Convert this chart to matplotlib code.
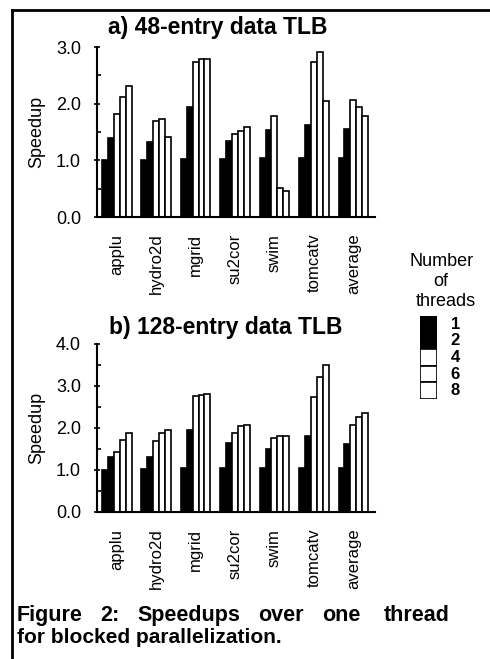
import matplotlib
matplotlib.use("Agg")
import matplotlib.pyplot as plt
from matplotlib.lines import Line2D
import numpy as np

plt.rcParams["font.family"] = ["Liberation Sans", "DejaVu Sans"]

benchmarks = ["applu", "hydro2d", "mgrid", "su2cor", "swim", "tomcatv", "average"]
threads = ["1", "2", "4", "6", "8"]
thread_colors = ["black", "black", "white", "white", "white"]

# speedup per benchmark, one column per thread count (1, 2, 4, 6, 8)
tlb48 = [
    [1.01, 1.40, 1.81, 2.11, 2.31],
    [1.01, 1.33, 1.70, 1.73, 1.41],
    [1.03, 1.94, 2.73, 2.78, 2.78],
    [1.03, 1.35, 1.47, 1.52, 1.59],
    [1.04, 1.53, 1.79, 0.52, 0.46],
    [1.04, 1.63, 2.74, 2.92, 2.05],
    [1.05, 1.56, 2.06, 1.95, 1.79],
]
tlb128 = [
    [1.01, 1.32, 1.44, 1.72, 1.87],
    [1.02, 1.31, 1.70, 1.88, 1.96],
    [1.04, 1.95, 2.76, 2.78, 2.82],
    [1.05, 1.64, 1.89, 2.04, 2.08],
    [1.04, 1.51, 1.77, 1.80, 1.81],
    [1.05, 1.81, 2.75, 3.22, 3.50],
    [1.05, 1.61, 2.08, 2.26, 2.36],
]

W, H = 490, 659
fig = plt.figure(figsize=(W / 100, H / 100), dpi=100)


def px_axes(left, top, right, bottom):
    return fig.add_axes([left / W, 1 - bottom / H, (right - left) / W, (bottom - top) / H])


def panel(ax, data, ymax):
    data = np.asarray(data)
    x = np.arange(len(benchmarks))
    bw = 0.15
    for i, t in enumerate(threads):
        ax.bar(x + (i - 2) * bw, data[:, i], width=bw, color=thread_colors[i],
               edgecolor="black", linewidth=1.2)
    ax.set_xlim(-0.5, len(benchmarks) - 0.45)
    ax.set_ylim(0, ymax)
    ax.set_yticks(np.arange(0, ymax + 0.01, 1.0))
    ax.set_yticklabels(["%.1f" % v for v in np.arange(0, ymax + 0.01, 1.0)], fontsize=13)
    ax.set_yticks(np.arange(0.5, ymax, 1.0), minor=True)
    ax.tick_params(axis="y", which="major", direction="inout", length=5, width=1.2, pad=9)
    ax.tick_params(axis="y", which="minor", direction="in", length=3, width=1.2)
    ax.set_xticks(x)
    ax.set_xticklabels(benchmarks, rotation=90, fontsize=12)
    ax.tick_params(axis="x", length=0, pad=12)
    for s in ("top", "right"):
        ax.spines[s].set_visible(False)
    for s in ("left", "bottom"):
        ax.spines[s].set_linewidth(1.5)
    ax.set_ylabel("Speedup", fontsize=13, labelpad=8)


ax_a = px_axes(97, 47, 375, 217)
panel(ax_a, tlb48, 3.0)
ax_b = px_axes(97, 344, 375, 512)
panel(ax_b, tlb128, 4.0)

fig.text(108 / W, 1 - 34 / H, "a) 48-entry data TLB", fontsize=16.5, fontweight="bold",
         ha="left", va="baseline")
fig.text(109 / W, 1 - 334 / H, "b) 128-entry data TLB", fontsize=16.5, fontweight="bold",
         ha="left", va="baseline")

# legend: stacked boxes
ax_l = px_axes(420, 316, 437, 399)
for i, t in enumerate(threads):
    ax_l.bar(0, 1, bottom=len(threads) - 1 - i, width=1, color=thread_colors[i],
             edgecolor="black", linewidth=1.2)
    ax_l.text(1.3, len(threads) - 1 - i + 0.5, t, fontsize=12, fontweight="bold",
              ha="left", va="center")
ax_l.set_xlim(-0.5, 0.5)
ax_l.set_ylim(0, len(threads))
ax_l.axis("off")
fig.text(442 / W, 1 - 262 / H, "Number", fontsize=13, ha="center", va="center")
fig.text(441 / W, 1 - 282 / H, "of", fontsize=13, ha="center", va="center")
fig.text(446 / W, 1 - 302 / H, "threads", fontsize=13, ha="center", va="center")

# justified caption
line1 = ["Figure", "2:", "Speedups", "over", "one", "thread"]
line1_x = [17, 100, 137, 258, 322, 384]
for word, xx in zip(line1, line1_x):
    fig.text(xx / W, 1 - 621 / H, word, fontsize=15.5, fontweight="bold",
             ha="left", va="baseline")
fig.text(17 / W, 1 - 643 / H, "for blocked parallelization.", fontsize=15,
         fontweight="bold", ha="left", va="baseline")

# page frame
fig.add_artist(Line2D([12 / W, 12 / W], [0, 1 - 10 / H], color="black", linewidth=2,
                      transform=fig.transFigure))
fig.add_artist(Line2D([12 / W, 1], [1 - 10 / H, 1 - 10 / H], color="black", linewidth=2,
                      transform=fig.transFigure))

fig.savefig("out.png", dpi=100)
